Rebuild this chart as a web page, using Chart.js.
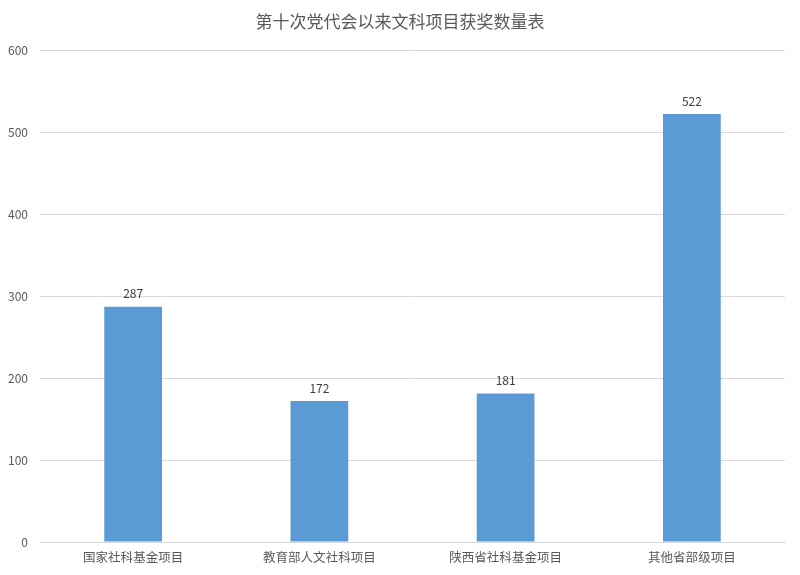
<!DOCTYPE html>
<html>
<head>
<meta charset="utf-8">
<script src="https://cdn.jsdelivr.net/npm/chart.js@4/dist/chart.umd.min.js"></script>
<style>
  body { margin: 0; background: #fff; }
  #wrap { width: 800px; height: 575px; }
</style>
</head>
<body>
<div id="wrap"><canvas id="awardsChart" width="800" height="575"></canvas></div>
<script>
// Chart data
const chartTitle = '第十次党代会以来文科项目获奖数量表';
const categories = ['国家社科基金项目', '教育部人文社科项目', '陕西省社科基金项目', '其他省部级项目'];
const awardCounts = [287, 172, 181, 522];
const yTicks = [0, 100, 200, 300, 400, 500, 600];

const fontFamily = '"Noto Sans CJK SC", "Noto Sans", sans-serif';

// Title centred on the whole canvas, and the value above each bar
const textLayer = {
    id: 'textLayer',
    afterDatasetsDraw(chart) {
        const ctx = chart.ctx;
        const meta = chart.getDatasetMeta(0);
        ctx.save();
        ctx.textAlign = 'center';

        ctx.font = '17px ' + fontFamily;
        ctx.fillStyle = '#595959';
        ctx.textBaseline = 'middle';
        ctx.fillText(chartTitle, chart.width / 2, 22);

        ctx.font = '12px ' + fontFamily;
        ctx.fillStyle = '#404040';
        ctx.textBaseline = 'bottom';
        meta.data.forEach(function(bar, i) {
            ctx.fillText(String(awardCounts[i]), bar.x, bar.y - 7);
        });
        ctx.restore();
    }
};

const ctx = document.getElementById('awardsChart').getContext('2d');
const awardsChart = new Chart(ctx, {
    type: 'bar',
    data: {
        labels: categories,
        datasets: [{
            data: awardCounts,
            backgroundColor: '#5b9bd5',
            borderWidth: 0,
            barPercentage: 0.62,
            categoryPercentage: 0.5
        }]
    },
    options: {
        responsive: false,
        animation: false,
        devicePixelRatio: 1,
        layout: { padding: { left: 0, right: 15, top: 50, bottom: 0 } },
        plugins: {
            legend: { display: false },
            tooltip: { enabled: false },
            title: { display: false }
        },
        scales: {
            x: {
                grid: { display: false, drawTicks: false },
                border: { display: true, color: '#d9d9d9', width: 1 },
                ticks: {
                    color: '#595959',
                    font: { family: fontFamily, size: 12.5 },
                    padding: 8,
                    maxRotation: 0
                },
                afterFit(scale) { scale.height = 33; }
            },
            y: {
                min: 0,
                max: 600,
                afterBuildTicks(scale) {
                    scale.ticks = yTicks.map(function(v) { return { value: v }; });
                },
                grid: { color: '#d9d9d9', drawTicks: false },
                border: { display: false },
                ticks: {
                    color: '#595959',
                    font: { family: fontFamily, size: 12 },
                    padding: 12
                },
                afterFit(scale) { scale.width = 40; }
            }
        }
    },
    plugins: [textLayer]
});
</script>
</body>
</html>
